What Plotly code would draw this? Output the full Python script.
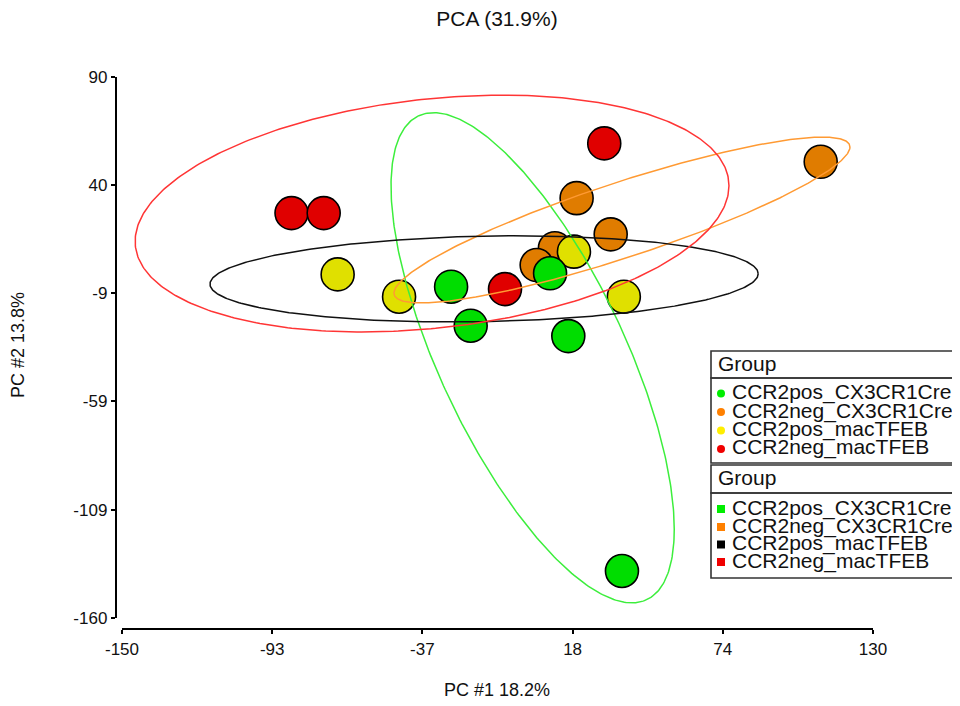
import numpy as np
import plotly.graph_objects as go

# ---------------- data ----------------
groups = ["CCR2pos_CX3CR1Cre", "CCR2neg_CX3CR1Cre", "CCR2pos_macTFEB", "CCR2neg_macTFEB"]

pc1_pos_cx3 = [-27.3, -20.0, 9.6, 16.4, 36.4]
pc2_pos_cx3 = [-7.0, -25.0, -0.8, -29.8, -138.3]

pc1_neg_cx3 = [110.5, 19.5, 32.2, 11.4, 4.6]
pc2_neg_cx3 = [50.7, 33.9, 17.2, 10.8, 3.0]

pc1_pos_mac = [-69.6, -46.7, 18.5, 37.1]
pc2_pos_mac = [-1.3, -11.6, 9.2, -11.6]

pc1_neg_mac = [-86.8, -74.8, 29.8, -7.2]
pc2_neg_mac = [27.0, 27.0, 59.2, -8.1]

# ellipse summaries per group (centre, half extent in x / y, correlation)
ell_cx = [3.1, 36.4, -15.0, -34.4]
ell_cy = [-39.8, 23.8, -3.4, 26.8]
ell_rx = [52.8, 85.0, 102.2, 110.7]
ell_ry = [113.2, 38.3, 19.9, 54.7]
ell_rho = [-0.70, 0.88, 0.12, 0.235]

x_tickvals = [-150, -94, -38, 18, 74, 130]
x_ticktext = ["-150", "-93", "-37", "18", "74", "130"]
y_tickvals = [90, 40, -10, -60, -110, -160]
y_ticktext = ["90", "40", "-9", "-59", "-109", "-160"]

# ---------------- styles ----------------
marker_colors = ["#00DD00", "#E07C00", "#E0E000", "#E00000"]
ellipse_colors = ["#3CEE3C", "#FF9A33", "#111111", "#FF3535"]
legend_dot_colors = ["#00EE00", "#FF8000", "#FFEE00", "#F00000"]
legend_sq_colors = ["#00EE00", "#FF8000", "#000000", "#F00000"]
FONT = "Liberation Sans, Arial, sans-serif"

OFF = 8  # page body margin in the browser
W, H = 952, 698
ML, MT = 102, 62
PW, PH = 763, 570
MR, MB = W - ML - PW, H - MT - PH


def px(x):
    return (x - OFF - ML) / PW


def py(y):
    return (MT + PH - (y - OFF)) / PH


fig = go.Figure()

xs = {0: pc1_pos_cx3, 1: pc1_neg_cx3, 2: pc1_pos_mac, 3: pc1_neg_mac}
ys = {0: pc2_pos_cx3, 1: pc2_neg_cx3, 2: pc2_pos_mac, 3: pc2_neg_mac}
for gi in [1, 3, 2, 0]:
    fig.add_trace(go.Scatter(
        x=xs[gi], y=ys[gi], mode="markers", name=groups[gi], showlegend=False,
        marker=dict(size=33, color=marker_colors[gi], line=dict(color="black", width=1.6)),
        hoverinfo="x+y+name"))

t = np.linspace(0, 2 * np.pi, 400)
for gi in [0, 1, 2, 3]:
    r = ell_rho[gi]
    ex = ell_cx[gi] + ell_rx[gi] * np.cos(t)
    ey = ell_cy[gi] + ell_ry[gi] * (r * np.cos(t) + np.sqrt(1 - r * r) * np.sin(t))
    fig.add_trace(go.Scatter(x=ex, y=ey, mode="lines", showlegend=False, hoverinfo="skip",
                             line=dict(color=ellipse_colors[gi], width=1.5)))

shapes = []
annotations = []


def legend_box(top, sep, bottom, title_y, entry_ys, colors, kind):
    shapes.append(dict(type="rect", xref="paper", yref="paper", x0=px(711), x1=px(1000),
                       y0=py(top), y1=py(sep), line=dict(color="#333333", width=1.6)))
    shapes.append(dict(type="rect", xref="paper", yref="paper", x0=px(711), x1=px(1000),
                       y0=py(sep), y1=py(bottom), line=dict(color="#333333", width=1.6)))
    annotations.append(dict(text="Group", xref="paper", yref="paper", x=px(716), y=py(title_y),
                            xanchor="left", yanchor="middle", showarrow=False,
                            font=dict(family=FONT, size=21, color="#111111")))
    for g, c, ey in zip(groups, colors, entry_ys):
        shapes.append(dict(type=kind, xref="paper", yref="paper", xsizemode="pixel", ysizemode="pixel",
                           xanchor=px(721), yanchor=py(ey), x0=-4, x1=4, y0=-4, y1=4,
                           fillcolor=c, line=dict(width=0)))
        annotations.append(dict(text=g, xref="paper", yref="paper", x=px(730), y=py(ey - 1.5),
                                xanchor="left", yanchor="middle", showarrow=False,
                                font=dict(family=FONT, size=21, color="#111111")))


legend_box(351, 378, 463, 363.5, [393.5, 412, 430.5, 449], legend_dot_colors, "circle")
legend_box(465, 493, 578, 477, [509, 527, 544.5, 562], legend_sq_colors, "rect")

annotations.append(dict(text="PC #1 18.2%", xref="paper", yref="paper", x=px(497), y=py(690),
                        xanchor="center", yanchor="middle", showarrow=False,
                        font=dict(family=FONT, size=18, color="#111111")))
annotations.append(dict(text="PC #2 13.8%", xref="paper", yref="paper", x=px(18), y=py(345),
                        xanchor="center", yanchor="middle", showarrow=False, textangle=-90,
                        font=dict(family=FONT, size=18, color="#111111")))

axis_common = dict(showgrid=False, zeroline=False, showline=True, linecolor="black", linewidth=2.4,
                   ticks="outside", ticklen=4, tickwidth=2, tickcolor="black", fixedrange=True)

fig.update_layout(
    width=W, height=H,
    margin=dict(l=ML, r=MR, t=MT, b=MB, pad=0),
    paper_bgcolor="white", plot_bgcolor="white",
    title=dict(text="PCA (31.9%)", x=(497 - OFF) / W, xref="container", xanchor="center",
               y=1 - (19 - OFF) / H, yref="container", yanchor="middle",
               font=dict(family=FONT, size=21, color="#111111")),
    xaxis=dict(range=[-150, 130], domain=[px(122), px(873)], anchor="free", position=py(629),
               tickvals=x_tickvals, ticktext=x_ticktext,
               tickfont=dict(family=FONT, size=17, color="#111111"), **axis_common),
    yaxis=dict(range=[-160, 90], domain=[py(618), py(76.7)], anchor="free", position=px(116),
               tickvals=y_tickvals, ticktext=y_ticktext,
               tickfont=dict(family=FONT, size=17, color="#111111"), **axis_common),
    shapes=shapes, annotations=annotations, showlegend=False,
)

fig.write_html("out.html")
